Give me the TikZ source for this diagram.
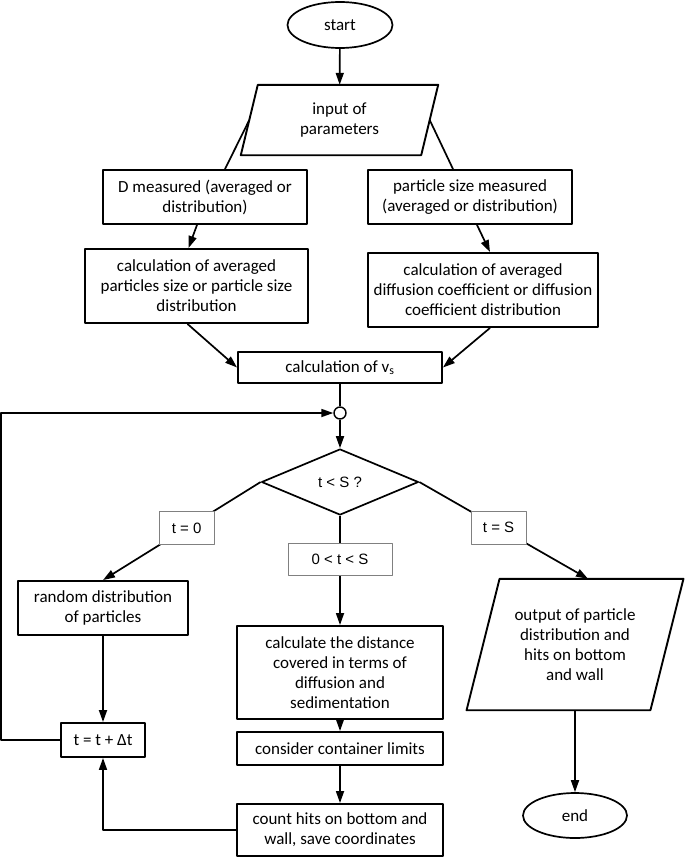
\documentclass[tikz,border=0pt]{standalone}
\usepackage{fontspec}
\setmainfont{Carlito}
\newfontfamily\lblfont{Liberation Sans}
\usetikzlibrary{shapes.geometric,arrows.meta}

\begin{document}
\begin{tikzpicture}[x=1pt,y=-1pt,line join=round,>={Triangle[length=12pt,width=8pt]}]
	\tikzset{every node/.style={font=\fontsize{17}{20}\selectfont,align=center,inner sep=0pt},
		box/.style={draw,line width=1.9pt,rectangle},
		io/.style={rectangle},
		term/.style={draw,line width=1.7pt,ellipse},
		lbl/.style={draw=gray,line width=0.6pt,fill=white,minimum height=33,
			font=\lblfont\fontsize{15}{17}\selectfont},
		con/.style={line width=1.7pt}}
	\useasboundingbox (0,0) rectangle (685,859);
	\def \sa{8.5}	\def \sb{16.5}
	% top part
	\node[term,minimum width=105,minimum height=46] (start) at (340,25) {start};
	\node[io,minimum width=180,minimum height=70] (inp) at (339.5,120) {input of\\parameters};
	\node[box,minimum width=204,minimum height=54] (dmeas) at (205,197) {D measured (averaged or\\distribution)};
	\node[box,minimum width=204,minimum height=54] (psize) at (470,197) {particle size measured\\(averaged or distribution)};
	\node[box,minimum width=223,minimum height=74] (calcL) at (196.5,286) {calculation of averaged\\particles size or particle size\\distribution};
	\node[box,minimum width=230,minimum height=74] (calcR) at (483,290) {calculation of averaged\\diffusion coefficient or diffusion\\coefficient distribution};
	\node[box,minimum width=204,minimum height=31] (vs) at (340,367.5) {calculation of v\textsubscript{s}};
	\node[draw,circle,line width=1.4pt,minimum size=12] (jn) at (340,413) {};
	\node[draw,diamond,line width=1.7pt,minimum width=157,minimum height=66,
		font=\lblfont\fontsize{15}{17}\selectfont] (dia) at (340,482) {t < S ?};
	% loop and output
	\node[box,minimum width=170,minimum height=54] (rnd) at (103,608) {random distribution\\of particles};
	\node[box,minimum width=84,minimum height=34] (tinc) at (103,740) {t = t + Δt};
	\node[box,minimum width=206,minimum height=93] (calcD) at (340,672.5) {calculate the distance\\covered in terms of\\diffusion and\\sedimentation};
	\node[box,minimum width=206,minimum height=33] (lim) at (340,748.5) {consider container limits};
	\node[box,minimum width=206,minimum height=52] (cnt) at (340,830) {count hits on bottom and\\wall, save coordinates};
	\node[io,minimum width=183.5,minimum height=131] (out) at (575,644.5) {output of particle\\distribution and\\hits on bottom\\and wall};
	\node[term,minimum width=104,minimum height=45] (end) at (575,815.5) {end};
	% slanted input/output boxes
	\draw[box] ([xshift=\sa]inp.north west) -- ([xshift=\sa]inp.north east)
		-- ([xshift=-\sa]inp.south east) -- ([xshift=-\sa]inp.south west) -- cycle;
	\draw[box] ([xshift=\sb]out.north west) -- ([xshift=\sb]out.north east)
		-- ([xshift=-\sb]out.south east) -- ([xshift=-\sb]out.south west) -- cycle;
	% connectors
	\draw[con] (inp.west) -- ([xshift=20]dmeas.north);
	\draw[con] (inp.east) -- ([xshift=-17]psize.north);
	\draw[con,->] ([xshift=-8]dmeas.south) -- ([xshift=-8]calcL.north);
	\draw[con,->] ([xshift=7]psize.south) -- ([xshift=7]calcR.north);
	\draw[con,->] ([xshift=-9]calcL.south) -- (vs.west);
	\draw[con,->] ([xshift=7]calcR.south) -- (vs.east);
	\draw[con] (vs) -- (jn);
	\draw[con,->] (jn) -- (dia);
	\draw[con,->] (dia.west) -- node[lbl,minimum width=55,pos=0.47] (lz) {t = 0} (rnd.north);
	\draw[con,->] (dia.south) -- node[lbl,minimum width=104,minimum height=32,pos=0.4] (lm) {0 < t < S} (calcD.north);
	\draw[con,->] (dia.east) -- node[lbl,minimum width=55,pos=0.47] (ls) {t = S} ([xshift=13]out.north);
	\foreach \a/\b in {start/inp,rnd/tinc,calcD/lim,lim/cnt,out/end}
	\draw[con,->] (\a) -- (\b);
	\draw[con,->] (tinc.west) -- ++(-59,0) |- (jn.west);
	\draw[con,->] (cnt.west) -| (tinc.south);
\end{tikzpicture}
\end{document}
